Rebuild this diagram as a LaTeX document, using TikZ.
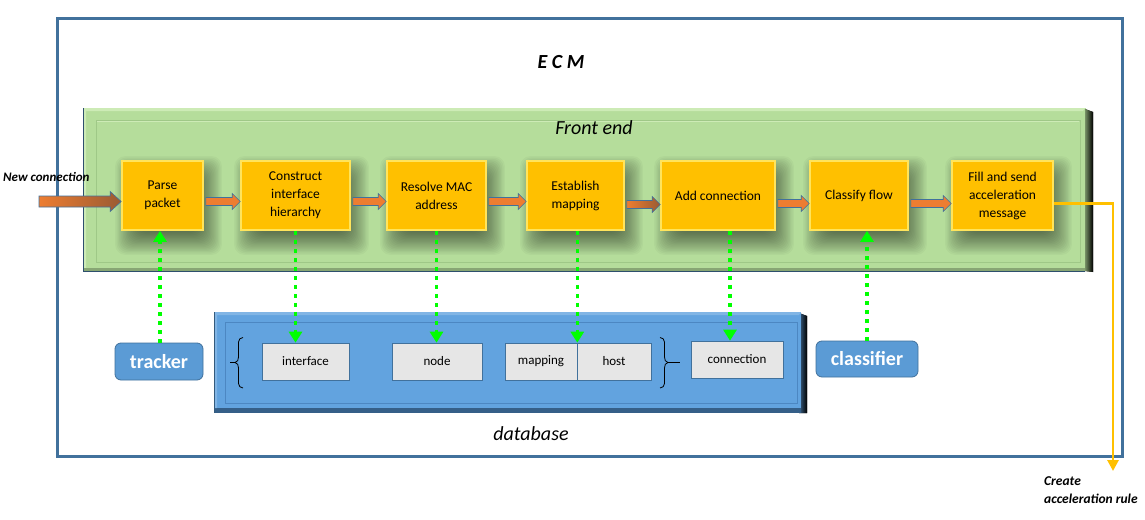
\documentclass[tikz,border=0pt]{standalone}
\usepackage{fontspec}
\setmainfont{Carlito}
\usetikzlibrary{arrows.meta,calc}
\definecolor{ecmblue}{HTML}{41719C}
\definecolor{greenfill}{HTML}{B5DD9B}
\definecolor{greenline}{HTML}{9FC887}
\definecolor{greenlight}{HTML}{CDEBB6}
\definecolor{procfill}{HTML}{FFC000}
\definecolor{procedge}{HTML}{FFE45C}
\definecolor{arrorange}{HTML}{ED7D31}
\definecolor{arrdark}{HTML}{9A5B33}
\definecolor{dbfill}{HTML}{62A3DF}
\definecolor{dbline}{HTML}{4C87C2}
\definecolor{grayfill}{HTML}{E6E6E6}
\definecolor{tagfill}{HTML}{5B9BD5}
\definecolor{lime}{HTML}{00FF00}
\pgfdeclarelayer{back}
\pgfdeclarelayer{shade}
\pgfsetlayers{back,shade,main}
\newcommand\fs[2]{\fontsize{#1}{#2}\selectfont}
\newcommand\blockarrow[3][]{\path[blockarr,#1] let \p1=#2, \p2=#3 in
  (\x1,\y1+4pt) -- (\x2-8pt,\y1+4pt) -- (\x2-8pt,\y1+8pt) -- (\x2,\y1) --
  (\x2-8pt,\y1-8pt) -- (\x2-8pt,\y1-4pt) -- (\x1,\y1-4pt) -- cycle;}
\newcommand\softshadow[1]{\begin{pgfonlayer}{shade}
  \foreach \k in {0,...,19}{
    \fill[black, opacity=0.03, rounded corners=10pt] let \p1=(#1.south west), \p2=(#1.north east) in
      (\x1-6pt+\k*1.3pt,\y1-24pt+\k*1.3pt) rectangle (\x2+18pt-\k*1.3pt,\y2+4pt-\k*1.3pt);}
  \end{pgfonlayer}}
\tikzset{
  proc/.style={draw=procedge, line width=1.6pt, fill=procfill, minimum height=69pt,
    align=center, inner sep=2pt, font=\fs{13.5}{18}},
  grayb/.style={draw=ecmblue, line width=0.6pt, fill=grayfill, minimum height=37pt,
    inner sep=1pt, font=\fs{13}{15}},
  tag/.style={draw=ecmblue, line width=0.8pt, fill=tagfill, rounded corners=6pt,
    text=white, font=\bfseries\fs{20}{22}, inner sep=1pt},
  blockarr/.style={fill=arrorange, draw=ecmblue, line width=0.6pt},
  gdot/.style={draw=lime, line width=3.6pt, dash pattern=on 4pt off 5pt,
    -{Triangle[width=13pt,length=11pt]}},
  yline/.style={draw=procfill, line width=2.8pt, -{Triangle[width=11pt,length=11pt]}},
  lbl/.style={inner sep=0pt, font=\bfseries\itshape\fs{13}{18}}
}
\begin{document}
\begin{tikzpicture}[x=1pt,y=-1pt]
\begin{pgfonlayer}{back}
\useasboundingbox[fill=white] (0,0) rectangle (1145,519);
% ECM frame
\draw[ecmblue, line width=3pt] (57,19) rectangle (1122,456);
% Front end panel
\fill[greenfill] (83,108) rectangle (1086,271);
\fill[left color=greenfill!65!black, right color=black] (1085,109) -- (1093,112) -- (1093,272) -- (1085,271) -- cycle;
\fill[greenlight] (83,108) -- (1085,108) -- (1083,111) -- (86,111) -- (86,271) -- (83,271) -- cycle;
\fill[greenfill!75!black] (84,268) -- (1085,268) -- (1085,271.5) -- (84,271.5) -- cycle;
\draw[ecmblue!70!black, line width=1pt] (83.5,108) -- (83.5,271.5) -- (1085,271.5);
\draw[greenline, line width=0.9pt] (96,120) rectangle (1080,262);
\draw[greenlight, line width=0.8pt] (97,121.5) -- (1079,121.5);
% database
\fill[left color=dbfill!60!black, right color=black] (799,313) -- (807,316) -- (807,413) -- (799,413) -- cycle;
\fill[dbline!70!black] (214,407) rectangle (801,413);
\fill[dbfill] (214,312) rectangle (801,408);
\fill[dbfill!80!white] (214,312) -- (801,312) -- (799,315) -- (217,315) -- (217,408) -- (214,408) -- cycle;
\draw[ecmblue!80!black, line width=1pt] (214.5,312) -- (214.5,413);
\draw[dbline, line width=1pt] (225,322) rectangle (797,403);
\end{pgfonlayer}
\node[font=\bfseries\itshape\fs{20}{22}] (ecm) at (561,62) {E C M};
\node[font=\itshape\fs{20}{22}] (fe) at (594,128) {Front end};
% process boxes
\node[proc, minimum width=81pt] (parse) at (162.5,195.5) {Parse\\packet};
\node[proc, minimum width=109pt] (construct) at (295.5,195.5) {Construct\\interface\\hierarchy};
\node[proc, minimum width=99pt] (resolve) at (436.5,195.5) {Resolve MAC\\address};
\node[proc, minimum width=97pt] (establish) at (575.5,195.5) {Establish\\mapping};
\node[proc, minimum width=114pt] (add) at (718,195.5) {Add connection};
\node[proc, minimum width=98pt] (classify) at (859,195.5) {Classify flow};
\node[proc, minimum width=101pt] (fill) at (1002.5,195.5) {Fill and send\\acceleration\\message};
\softshadow{parse}\softshadow{construct}\softshadow{resolve}\softshadow{establish}
\softshadow{add}\softshadow{classify}\softshadow{fill}
% block arrows
\coordinate (newc) at (39,201.5);
\path[left color=arrorange, right color=arrdark, draw=ecmblue, line width=0.6pt]
  let \p1=(newc), \p2=(parse.west) in
  (\x1,\y1+5.5pt) -- (\x2-11pt,\y1+5.5pt) -- (\x2-11pt,\y1+10pt) -- (\x2,\y1) --
  (\x2-11pt,\y1-10pt) -- (\x2-11pt,\y1-5.5pt) -- (\x1,\y1-5.5pt) -- cycle;
\blockarrow{([xshift=2pt,yshift=-6pt]parse.east)}{(construct.west)}
\blockarrow{([xshift=2pt,yshift=-6pt]construct.east)}{(resolve.west)}
\blockarrow{([xshift=2pt,yshift=-6pt]resolve.east)}{(establish.west)}
\blockarrow[left color=arrorange, right color=arrdark]{([xshift=2pt,yshift=-9pt]establish.east)}{(add.west)}
\blockarrow{([xshift=2pt,yshift=-8pt]add.east)}{(classify.west)}
\blockarrow{([xshift=2pt,yshift=-8pt]classify.east)}{(fill.west)}
\node[lbl, anchor=west] (newlbl) at (3,177) {New connection};
% yellow output line
\coordinate (rule) at (1113,471);
\draw[yline] ([yshift=-8pt]fill.east) -| (rule);
\node[lbl, anchor=north west, align=left, font=\bfseries\itshape\fs{13.5}{18}] (rulelbl) at (1044,476) {Create\\acceleration rule};
\node[font=\itshape\fs{20}{22}] (dblbl) at (531,434) {database};
% tables
\node[grayb, minimum width=87pt] (interface) at (305.5,361.5) {interface};
\node[grayb, minimum width=90pt] (node) at (437,361.5) {node};
\node[grayb, minimum width=72pt] (mapping) at (541,361.5) {mapping};
\node[grayb, minimum width=74pt] (host) at (614,361.5) {host};
\node[grayb, minimum width=92pt] (connection) at (737,359.5) {connection};
% braces
\draw[black, line width=0.8pt] (243,337.5) to[out=180,in=90] (238.5,342) -- (238.5,357)
  to[out=-90,in=0] (235,362.5) to[out=0,in=90] (238.5,368) -- (238.5,383.5)
  to[out=-90,in=180] (243,388);
\draw[black, line width=0.8pt] (230,362.5) -- (235,362.5);
\draw[black, line width=0.8pt] (660,337.5) to[out=0,in=90] (664.5,342) -- (664.5,357)
  to[out=-90,in=180] (668,362.5) to[out=180,in=90] (664.5,368) -- (664.5,383.5)
  to[out=-90,in=0] (660,388);
\draw[black, line width=0.8pt] (668,362.5) -- (680,362.5);
% tags
\node[tag, minimum width=88pt, minimum height=37pt] (tracker) at (159,361.5) {tracker};
\node[tag, minimum width=102pt, minimum height=36pt] (classifier) at (867,359) {classifier};
% green dotted arrows
\draw[gdot] ([xshift=1pt]tracker.north) -- ([xshift=1pt]tracker.north |- parse.south);
\draw[gdot] (construct.south) -- (construct.south |- interface.north);
\draw[gdot] (resolve.south) -- (resolve.south |- node.north);
\draw[gdot] (mapping.north east |- establish.south) -- (mapping.north east);
\draw[gdot] ([xshift=12pt]add.south) -- ([xshift=12pt]add.south |- connection.north);
\draw[gdot] (classifier.north) -- (classifier.north |- classify.south);
\end{tikzpicture}
\end{document}
